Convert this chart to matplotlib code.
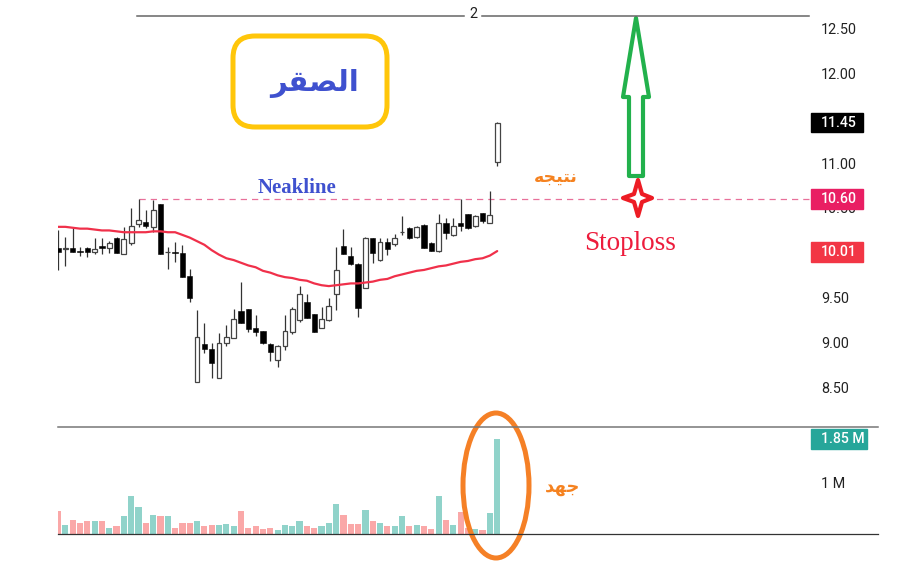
import matplotlib
matplotlib.use("Agg")
import matplotlib.pyplot as plt
from matplotlib.patches import Rectangle, FancyBboxPatch, Ellipse, Polygon
import numpy as np

plt.rcParams['font.family'] = ['Roboto', 'DejaVu Sans']

highs = [10.25, 10.18, 10.28, 10.07, 10.07, 10.17, 10.17, 10.13, 10.18, 10.29,
         10.50, 10.60, 10.48, 10.59, 10.54, 10.07, 10.12, 10.09, 9.82, 9.36,
         9.22, 9.00, 9.11, 9.20, 9.38, 9.68, 9.38, 9.31, 9.13, 9.00,
         8.97, 9.31, 9.40, 9.63, 9.54, 9.32, 9.40, 9.50, 10.07, 10.27,
         10.07, 9.89, 10.18, 10.17, 10.17, 10.17, 10.21, 10.41, 10.29, 10.30,
         10.32, 10.12, 10.43, 10.39, 10.39, 10.60, 10.43, 10.42, 10.44, 10.69,
         11.46]
lows = [9.81, 9.85, 10.01, 9.96, 9.95, 9.99, 9.99, 10.00, 10.00, 9.99,
        10.09, 10.29, 10.28, 10.23, 9.99, 9.82, 9.90, 9.73, 9.45, 8.56,
        8.88, 8.61, 8.61, 8.96, 9.05, 9.22, 9.12, 9.07, 8.98, 8.80,
        8.73, 8.92, 9.10, 9.23, 9.27, 9.12, 9.16, 9.24, 9.36, 9.99,
        9.86, 9.29, 9.61, 9.89, 9.91, 9.98, 10.08, 10.20, 10.15, 10.17,
        10.05, 10.02, 10.01, 10.15, 10.19, 10.24, 10.27, 10.29, 10.33, 10.33,
        10.97]
opens = [10.05, 10.04, 10.05, 10.02, 10.05, 10.01, 10.08, 10.05, 10.17, 9.99,
         10.11, 10.32, 10.34, 10.29, 10.54, 10.01, 10.01, 10.00, 9.74, 8.56,
         8.99, 8.93, 8.61, 9.00, 9.05, 9.35, 9.38, 9.16, 9.13, 8.99,
         8.81, 8.96, 9.12, 9.25, 9.45, 9.32, 9.16, 9.25, 9.54, 10.08,
         9.96, 9.88, 9.61, 10.17, 9.92, 10.12, 10.10, 10.23, 10.28, 10.18,
         10.31, 10.11, 10.02, 10.33, 10.20, 10.33, 10.43, 10.30, 10.44, 10.33,
         11.01]
closes = [10.01, 10.05, 10.01, 10.01, 10.01, 10.04, 10.05, 10.11, 10.00, 10.15,
          10.30, 10.37, 10.30, 10.48, 9.99, 10.01, 10.00, 9.73, 9.50, 9.06,
          8.93, 8.77, 9.00, 9.06, 9.26, 9.22, 9.15, 9.12, 9.00, 8.90,
          8.96, 9.13, 9.37, 9.54, 9.27, 9.12, 9.26, 9.41, 9.81, 9.99,
          9.88, 9.39, 10.17, 10.00, 10.12, 10.04, 10.17, 10.23, 10.17, 10.29,
          10.05, 10.02, 10.33, 10.22, 10.30, 10.30, 10.28, 10.41, 10.35, 10.42,
          11.45]
ma_line = [10.29, 10.29, 10.28, 10.27, 10.27, 10.26, 10.25, 10.25, 10.24, 10.23,
           10.23, 10.23, 10.23, 10.24, 10.24, 10.23, 10.23, 10.20, 10.17, 10.13,
           10.09, 10.03, 9.98, 9.94, 9.92, 9.89, 9.86, 9.84, 9.80, 9.78,
           9.75, 9.73, 9.72, 9.70, 9.69, 9.66, 9.64, 9.63, 9.64, 9.65,
           9.66, 9.66, 9.67, 9.68, 9.70, 9.71, 9.74, 9.76, 9.78, 9.80,
           9.81, 9.83, 9.85, 9.86, 9.88, 9.90, 9.91, 9.93, 9.94, 9.97,
           10.02]
volumes = [0.45, 0.18, 0.27, 0.21, 0.25, 0.25, 0.25, 0.12, 0.15, 0.35,
           0.74, 0.53, 0.21, 0.38, 0.35, 0.35, 0.12, 0.21, 0.21, 0.25,
           0.15, 0.18, 0.18, 0.19, 0.15, 0.44, 0.12, 0.16, 0.10, 0.12,
           0.08, 0.18, 0.16, 0.25, 0.15, 0.12, 0.15, 0.21, 0.58, 0.38,
           0.19, 0.19, 0.47, 0.26, 0.21, 0.15, 0.16, 0.36, 0.15, 0.18,
           0.15, 0.10, 0.75, 0.28, 0.18, 0.42, 0.12, 0.10, 0.08, 0.40,
           1.85]

# the 10.00 and 11.50 labels are hidden on the chart, so only these get text
shown_ticks = [8.5, 9.0, 9.5, 10.5, 11.0, 12.0, 12.5]
neckline = 10.60
last_close = 11.45
ma_last = 10.01
vol_last = 1.85

# Arabic in presentation forms, visual order (matplotlib does not shape text)
title_ar = "\ufeae\ufed8\ufebc\ufedf\ufe8d"
result_ar = "\ufeea\ufea0\ufef4\ufe98\ufee7"
effort_ar = "\ufeaa\ufeec\ufe9f"

W, H = 897, 571
BAR_STEP = 7.32


def rect(left, top, right, bottom):
    return [left / W, 1 - bottom / H, (right - left) / W, (bottom - top) / H]


fig = plt.figure(figsize=(W / 100, H / 100), dpi=100)

# price panel
ax = fig.add_axes(rect(58, 16, 810, 427))
ax.set_xlim(0, 752 / BAR_STEP)
ax.set_ylim(8.061, 12.638)
x = np.arange(len(closes))
opens = np.array(opens)
closes = np.array(closes)
up = closes >= opens
ax.vlines(x, lows, highs, color="#333333", lw=0.9, zorder=2)
top = np.maximum(opens, closes)
bottom = np.minimum(opens, closes)
ax.bar(x[up], (top - bottom)[up], bottom=bottom[up], width=0.66, facecolor="white",
       edgecolor="#444444", lw=0.9, zorder=3)
ax.bar(x[~up], (top - bottom)[~up], bottom=bottom[~up], width=0.72, color="black",
       edgecolor="black", lw=0.4, zorder=3)
ax.plot(x, ma_line, color="#f0304a", lw=1.6, zorder=4, solid_capstyle="round")
ax.plot([11, 752 / BAR_STEP], [neckline, neckline], color="#e8709a", lw=0.9,
        dashes=(5, 4), zorder=1)

# volume panel
vax = fig.add_axes(rect(58, 427, 810, 534))
vax.set_xlim(0, 752 / BAR_STEP)
vax.set_ylim(0, 2.086)
vol_colors = ["#90d3ca" if u else "#faa8a8" for u in up]
vax.bar(x, volumes, width=0.84, color=vol_colors, zorder=2)

for a in (ax, vax):
    a.patch.set_alpha(0)
    for s in a.spines.values():
        s.set_visible(False)
    a.set_xticks([])
    a.yaxis.tick_right()
    a.tick_params(axis="y", length=0, pad=8, labelsize=10.4, labelcolor="#222222")

ax.set_yticks(shown_ticks)
ax.set_yticklabels(["%.2f" % t for t in shown_ticks])
vax.set_yticks([1])
vax.set_yticklabels(["1 M"])


def price_tag(a, value, text, color, box_w, box_h):
    tr = a.get_yaxis_transform()
    a.add_patch(Rectangle((1 + 1 / 752, value - box_h / 2), box_w / 752, box_h,
                          transform=tr, color=color, clip_on=False, zorder=9))
    a.text(1 + 11 / 752, value, text, transform=tr, color="white", fontsize=10.2,
           fontweight="medium", va="center", ha="left", clip_on=False, zorder=10)


price_tag(ax, last_close, "%.2f" % last_close, "black", 52, 0.21)
price_tag(ax, neckline, "%.2f" % neckline, "#e91e63", 52, 0.22)
price_tag(ax, ma_last, "%.2f" % ma_last, "#f23645", 52, 0.22)
price_tag(vax, vol_last, "1.85 M", "#26a69a", 56, 0.39)

# hand drawn annotations, in pixels
ov = fig.add_axes([0, 0, 1, 1], zorder=5)
ov.set_xlim(0, W)
ov.set_ylim(H, 0)
ov.axis("off")

ov.plot([137, 464], [16, 16], color="#666666", lw=1.1)
ov.plot([482, 809], [16, 16], color="#666666", lw=1.1)
ov.text(473, 14.5, "2", fontsize=10.4, color="#222222", ha="center", va="center")
ov.plot([58, 878], [427, 427], color="#777777", lw=1.1)
ov.plot([58, 878], [534, 534], color="#333333", lw=0.9)

ov.add_patch(FancyBboxPatch((233, 36), 154, 91, boxstyle="round,pad=0,rounding_size=22",
                            fc="none", ec="#ffc60a", lw=3.6))
ov.text(315, 84, title_ar, fontsize=21, fontweight="bold", color="#3f51cf",
        family="DejaVu Sans", ha="center", va="center")

ov.text(297, 188, "Neakline", fontsize=15, fontweight="bold", color="#3f51cf",
        family="Liberation Serif", ha="center", va="center")
ov.text(630, 243, "Stoploss", fontsize=19.5, color="#ed1c3c",
        family="Liberation Serif", ha="center", va="center")
ov.text(556, 177, result_ar, fontsize=12.5, fontweight="bold", color="#f58220",
        family="DejaVu Sans", ha="center", va="center")
ov.text(563, 487, effort_ar, fontsize=13, fontweight="bold", color="#f58220",
        family="DejaVu Sans", ha="center", va="center")

ov.add_patch(Polygon([(636, 18), (649, 97), (643, 97), (643, 176), (629, 176),
                      (629, 97), (623, 97)], closed=True, fc="none", ec="#22b14c",
                     lw=3, joinstyle="round"))
ov.add_patch(Polygon([(638, 180), (642, 194), (652, 198), (642, 202), (638, 216),
                      (634, 202), (623, 198), (634, 194)], closed=True, fc="white",
                     ec="#ed1c24", lw=3, joinstyle="round"))
ov.add_patch(Ellipse((496, 485.5), 66, 145, fc="none", ec="#f58026", lw=3.6))

fig.savefig("out.png", dpi=100, facecolor="white")
